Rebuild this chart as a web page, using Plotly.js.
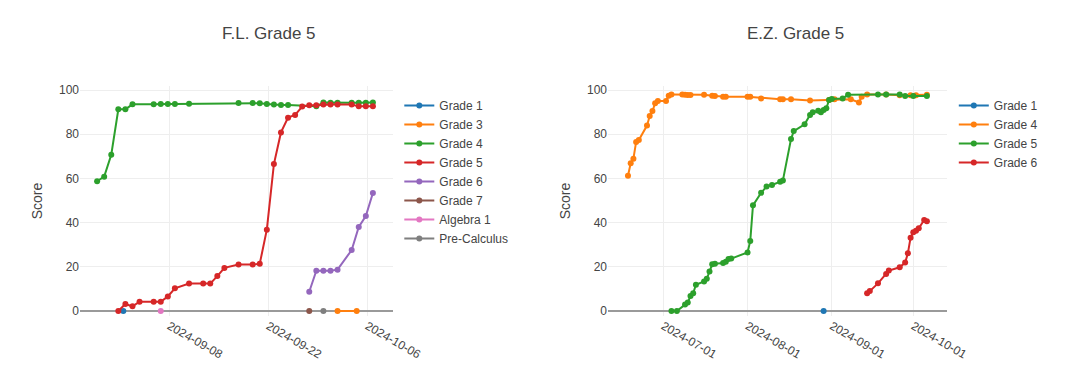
<!DOCTYPE html>
<html>
<head>
<meta charset="utf-8">
<script src="https://cdn.plot.ly/plotly-3.0.1.min.js"></script>
<style>
html,body{margin:0;padding:0;background:#fff;}
#chart{width:1080px;height:380px;}
</style>
</head>
<body>
<div id="chart"></div>
<script>
// ---------- Data: F.L. Grade 5 ----------
const flTitle = 'F.L. Grade 5';
const flNames = ['Grade 1','Grade 3','Grade 4','Grade 5','Grade 6','Grade 7','Algebra 1','Pre-Calculus'];
const flG1Dates = ['2024-09-01 12:00'];
const flG1 = [0];
const flG3Dates = ['2024-10-01 19:00','2024-10-04 12:00'];
const flG3 = [0,0];
const flG4Dates = ['2024-08-28 19:00','2024-08-29 19:00','2024-08-30 19:00','2024-08-31 19:00','2024-09-01 19:00','2024-09-02 19:00','2024-09-05 19:00','2024-09-06 19:00','2024-09-07 19:00','2024-09-08 19:00','2024-09-10 19:00','2024-09-17 19:00','2024-09-19 19:00','2024-09-20 19:00','2024-09-21 19:00','2024-09-22 19:00','2024-09-23 19:00','2024-09-24 19:00','2024-09-28 19:00','2024-09-29 19:00','2024-09-30 19:00','2024-10-01 19:00','2024-10-03 19:00','2024-10-04 19:00','2024-10-05 19:00','2024-10-06 19:00'];
const flG4 = [58.7,60.8,70.7,91.3,91.3,93.5,93.5,93.7,93.7,93.7,93.8,94.1,94.1,94.0,93.7,93.4,93.2,93.2,92.6,94.3,94.2,94.2,94.2,94.2,94.2,94.4];
const flG5Dates = ['2024-08-31 19:00','2024-09-01 19:00','2024-09-02 19:00','2024-09-03 19:00','2024-09-05 19:00','2024-09-06 19:00','2024-09-07 19:00','2024-09-08 19:00','2024-09-10 19:00','2024-09-12 19:00','2024-09-13 19:00','2024-09-14 19:00','2024-09-15 19:00','2024-09-17 19:00','2024-09-19 19:00','2024-09-20 19:00','2024-09-21 19:00','2024-09-22 19:00','2024-09-23 19:00','2024-09-24 19:00','2024-09-25 19:00','2024-09-26 19:00','2024-09-27 19:00','2024-09-28 19:00','2024-09-29 19:00','2024-09-30 19:00','2024-10-01 19:00','2024-10-03 19:00','2024-10-04 19:00','2024-10-05 19:00','2024-10-06 19:00'];
const flG5 = [0,3.2,2.1,4.2,4.2,4.2,6.6,10.3,12.4,12.4,12.4,15.8,19.5,21.0,21.0,21.4,36.8,66.5,80.8,87.5,88.7,92.5,93.1,93.1,93.4,93.4,93.4,93.4,92.6,92.6,92.6];
const flG6Dates = ['2024-09-27 19:00','2024-09-28 19:00','2024-09-29 19:00','2024-09-30 19:00','2024-10-01 19:00','2024-10-03 19:00','2024-10-04 19:00','2024-10-05 19:00','2024-10-06 19:00'];
const flG6 = [8.7,18.2,18.2,18.2,18.7,27.6,38.0,43.0,53.4];
const flG7Dates = ['2024-09-27 19:00'];
const flG7 = [0];
const flAlg1Dates = ['2024-09-06 19:00'];
const flAlg1 = [0];
const flPreCalcDates = ['2024-09-29 19:00'];
const flPreCalc = [0];
const flTicks = ['2024-09-08','2024-09-22','2024-10-06'];

// ---------- Data: E.Z. Grade 5 ----------
const ezTitle = 'E.Z. Grade 5';
const ezNames = ['Grade 1','Grade 4','Grade 5','Grade 6'];
const ezG1Dates = ['2024-08-29'];
const ezG1 = [0];
const ezG4Dates = ['2024-06-18','2024-06-19','2024-06-20','2024-06-21','2024-06-22','2024-06-25','2024-06-26','2024-06-27','2024-06-28','2024-06-29','2024-07-02','2024-07-03','2024-07-04','2024-07-08','2024-07-09','2024-07-10','2024-07-11','2024-07-16','2024-07-19','2024-07-20','2024-07-23','2024-07-24','2024-08-01','2024-08-02','2024-08-06','2024-08-13','2024-08-14','2024-08-17','2024-08-24','2024-08-31','2024-09-02','2024-09-08','2024-09-11','2024-09-12','2024-09-14','2024-09-21','2024-09-26','2024-09-30','2024-10-02','2024-10-06'];
const ezG4 = [61.2,66.8,68.9,76.5,77.4,83.9,88.2,90.5,94.0,95.0,95.0,97.4,98.0,98.0,97.8,97.7,97.7,97.9,97.4,97.3,97.0,96.9,97.0,96.9,96.2,95.8,95.8,95.8,95.2,95.5,95.8,95.8,94.4,97.0,98.0,98.0,97.6,97.6,97.6,97.9];
const ezG5Dates = ['2024-07-04','2024-07-06','2024-07-09','2024-07-10','2024-07-11','2024-07-12','2024-07-13','2024-07-16','2024-07-17','2024-07-18','2024-07-19','2024-07-20','2024-07-23','2024-07-24','2024-07-25','2024-07-26','2024-08-01','2024-08-02','2024-08-03','2024-08-06','2024-08-08','2024-08-10','2024-08-13','2024-08-14','2024-08-17','2024-08-18','2024-08-22','2024-08-24','2024-08-25','2024-08-27','2024-08-28','2024-08-29','2024-08-30','2024-08-31','2024-09-01','2024-09-05','2024-09-07','2024-09-18','2024-09-21','2024-09-26','2024-09-28','2024-10-01','2024-10-06'];
const ezG5 = [0,0,2.9,3.8,6.8,8.0,11.9,13.4,14.6,17.9,21.1,21.4,21.7,22.3,23.5,23.7,26.5,31.7,47.8,53.5,56.3,57.0,58.5,59.0,77.8,81.4,84.5,88.7,89.9,90.6,89.9,90.9,91.7,95.5,95.9,96.2,97.9,98.0,98.0,98.0,97.3,97.3,97.3];
const ezG6Dates = ['2024-09-14','2024-09-15','2024-09-18','2024-09-21','2024-09-22','2024-09-26','2024-09-28','2024-09-29','2024-09-30','2024-10-01','2024-10-02','2024-10-03','2024-10-05','2024-10-06'];
const ezG6 = [8.0,9.0,12.5,16.7,18.3,19.8,21.9,26.1,33.2,35.6,36.3,37.4,41.2,40.6];
const ezTicks = ['2024-07-01','2024-08-01','2024-09-01','2024-10-01'];

const yTicks = [0,20,40,60,80,100];
const colors = ['#1f77b4','#ff7f0e','#2ca02c','#d62728','#9467bd','#8c564b','#e377c2','#7f7f7f'];

// ---------- Layout geometry (pixels) ----------
const W = 1080, H = 380;
const plotTop = 86, plotBottom = 316;
const y0px = 311, y100px = 90;
const L = {x0: 80, x1: 393, refPx: 169.3, refDate: Date.UTC(2024,8,8), pxPerDay: 7.0714};
const R = {x0: 608, x1: 947, refPx: 663.3, refDate: Date.UTC(2024,6,1), pxPerDay: 2.7174};
const DAY = 86400000;
function pxToDate(p, g){ const ms = g.refDate + (p - g.refPx)/g.pxPerDay*DAY; return new Date(ms).toISOString().replace('T',' ').slice(0,19); }
const perUnit = (y0px - y100px)/100;
const yRange = [(y0px - plotBottom)/perUnit, (y0px - plotTop)/perUnit];
const yDomain = [(H - plotBottom)/H, (H - plotTop)/H];

function tr(x, y, name, color, xa, ya, leg){
  return {x: x, y: y, name: name, type: 'scatter', mode: 'lines+markers',
    line: {color: color, width: 2}, marker: {color: color, size: 6},
    xaxis: xa, yaxis: ya, legend: leg};
}

const data = [
  tr(flG1Dates, flG1, flNames[0], colors[0], 'x', 'y', 'legend'),
  tr(flG3Dates, flG3, flNames[1], colors[1], 'x', 'y', 'legend'),
  tr(flG4Dates, flG4, flNames[2], colors[2], 'x', 'y', 'legend'),
  tr(flG5Dates, flG5, flNames[3], colors[3], 'x', 'y', 'legend'),
  tr(flG6Dates, flG6, flNames[4], colors[4], 'x', 'y', 'legend'),
  tr(flG7Dates, flG7, flNames[5], colors[5], 'x', 'y', 'legend'),
  tr(flAlg1Dates, flAlg1, flNames[6], colors[6], 'x', 'y', 'legend'),
  tr(flPreCalcDates, flPreCalc, flNames[7], colors[7], 'x', 'y', 'legend'),
  tr(ezG1Dates, ezG1, ezNames[0], colors[0], 'x2', 'y2', 'legend2'),
  tr(ezG4Dates, ezG4, ezNames[1], colors[1], 'x2', 'y2', 'legend2'),
  tr(ezG5Dates, ezG5, ezNames[2], colors[2], 'x2', 'y2', 'legend2'),
  tr(ezG6Dates, ezG6, ezNames[3], colors[3], 'x2', 'y2', 'legend2')
];

const font = {family: '"Liberation Sans", Arial, sans-serif', size: 12, color: '#444'};
function xaxis(g, ticks, anchor){
  return {type: 'date', domain: [g.x0/W, g.x1/W], range: [pxToDate(g.x0, g), pxToDate(g.x1, g)],
    tickmode: 'array', tickvals: ticks, ticktext: ticks, tickangle: 30,
    gridcolor: '#eee', showline: false, zeroline: false, anchor: anchor,
    tickfont: {size: 12, color: '#444'}};
}
function yaxis(anchor){
  return {domain: yDomain, range: yRange, tickmode: 'array', tickvals: yTicks,
    gridcolor: '#eee', zeroline: true, zerolinecolor: '#9a9a9a', zerolinewidth: 2,
    anchor: anchor, title: {text: 'Score', font: {size: 14, color: '#444'}},
    tickfont: {size: 12, color: '#444'}};
}
const legTop = 91;
const layout = {
  width: W, height: H, margin: {l: 0, r: 0, t: 0, b: 0},
  paper_bgcolor: '#fff', plot_bgcolor: '#fff', font: font,
  xaxis: xaxis(L, flTicks, 'y'), yaxis: yaxis('x'),
  xaxis2: xaxis(R, ezTicks, 'y2'), yaxis2: yaxis('x2'),
  legend: {x: (L.x1 + 6.3)/W, y: (H - legTop)/H, xanchor: 'left', yanchor: 'top', font: {size: 12, color: '#444'}, bgcolor: 'rgba(0,0,0,0)'},
  legend2: {x: (R.x1 + 6.8)/W, y: (H - legTop)/H, xanchor: 'left', yanchor: 'top', font: {size: 12, color: '#444'}, bgcolor: 'rgba(0,0,0,0)'},
  showlegend: true,
  annotations: [
    {text: flTitle, x: 269/W, y: (H - 33)/H, xref: 'paper', yref: 'paper', xanchor: 'center', yanchor: 'middle', showarrow: false, font: {size: 17, color: '#444'}},
    {text: ezTitle, x: 795.5/W, y: (H - 33)/H, xref: 'paper', yref: 'paper', xanchor: 'center', yanchor: 'middle', showarrow: false, font: {size: 17, color: '#444'}}
  ]
};
Plotly.newPlot('chart', data, layout, {displayModeBar: false, staticPlot: true});
</script>
</body>
</html>
